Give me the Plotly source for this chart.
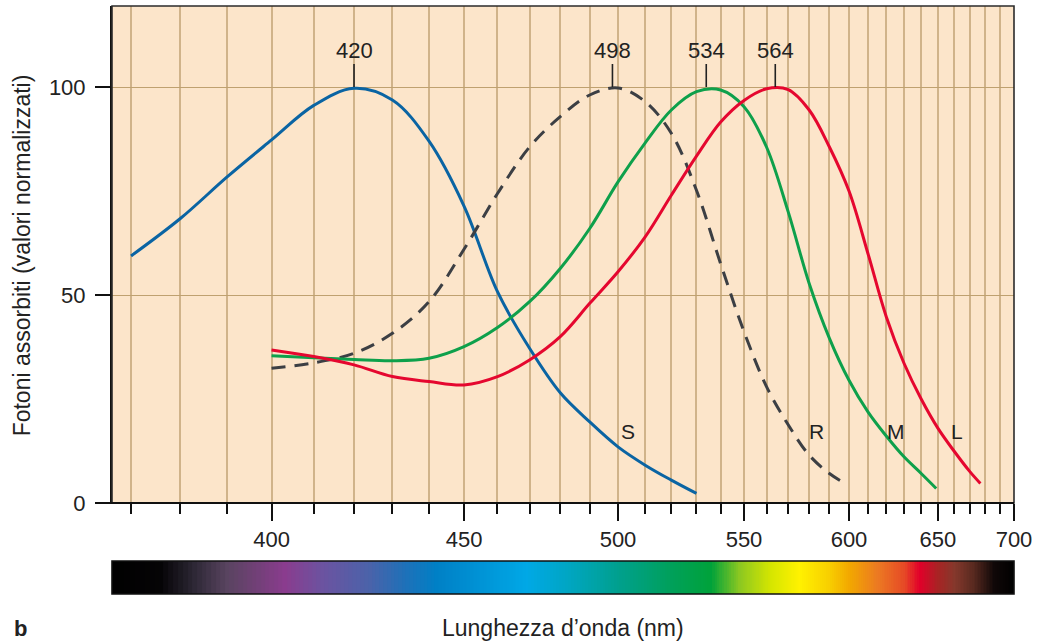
import plotly.graph_objects as go

# ---------------- data ----------------
wl_S = [370, 380, 390, 400, 410, 420, 430, 440, 450, 460, 470, 480, 490, 500, 510, 520, 530]
val_S = [59.4, 68.4, 78.4, 87.3, 95.6, 99.7, 96.9, 87.0, 71.4, 50.8, 37.2, 26.5, 19.5, 13.5, 9.1, 5.5, 2.3]

wl_R = [400, 410, 420, 430, 440, 450, 460, 470, 480, 490, 500, 510, 520, 530, 540, 550, 560, 570, 580, 590, 598]
val_R = [32.4, 33.7, 36.0, 40.8, 48.4, 61.0, 74.4, 85.6, 92.9, 98.1, 99.8, 96.5, 88.9, 75.2, 57.5, 41.2, 28.0, 18.8, 11.5, 7.1, 4.7]

wl_M = [400, 410, 420, 430, 440, 450, 460, 470, 480, 490, 500, 510, 520, 530, 540, 550, 560, 570, 580, 590, 600, 610, 620, 630, 640, 649]
val_M = [35.4, 34.9, 34.5, 34.2, 34.8, 37.6, 42.2, 48.4, 56.4, 66.0, 77.2, 86.6, 94.5, 98.9, 99.3, 95.3, 85.6, 70.0, 52.8, 39.6, 29.5, 21.9, 16.1, 11.1, 7.1, 3.5]

wl_L = [400, 410, 420, 430, 440, 450, 460, 470, 480, 490, 500, 510, 520, 530, 540, 550, 560, 570, 580, 590, 600, 610, 620, 630, 640, 650, 660, 670, 677]
val_L = [36.8, 35.2, 33.2, 30.4, 29.2, 28.4, 30.4, 34.4, 40.0, 48.0, 55.6, 64.0, 74.0, 83.4, 91.6, 96.8, 99.6, 99.4, 94.5, 85.6, 75.0, 60.0, 44.8, 33.6, 25.0, 18.0, 12.5, 7.6, 4.7]

peak_nm = [420, 498, 534, 564]

major_ticks_nm = [400, 450, 500, 550, 600, 650, 700]
minor_ticks_nm = list(range(370, 701, 10))
y_ticks = [0, 50, 100]

# spectrum colour stops (wavelength nm, colour)
spec_stop_nm = [366, 376, 383, 390, 403, 412, 424, 433, 442, 455, 469, 482, 500, 520, 536, 548, 562, 575, 590, 600, 615, 630, 639, 650, 660, 672, 686, 700]
spec_stop_col = ["#000000", "#050406", "#2e2836", "#594460", "#8a3c8e", "#6c53a0", "#4a63aa", "#2070b8", "#0080c6",
                 "#0094d6", "#00a8e6", "#00a6c4", "#00a08e", "#00a05a", "#00a23a", "#8cc821", "#d6e600", "#fff200",
                 "#f8cf00", "#f2a800", "#ec7a22", "#e64a26", "#e2002a", "#a82424", "#86382c", "#5a2a20", "#100808", "#000000"]

# ---------------- helpers ----------------
def k(nm):
    # axis is linear in wavenumber (1000/nm)
    return 1000.0 / nm

FONT = "Liberation Sans, Arial, Helvetica, sans-serif"
k_left = 2.7302
k_right = 1000.0 / 700

fig = go.Figure()

# spectrum bar
spec_nm = list(range(366, 701))
zmin, zmax = spec_stop_nm[0], spec_stop_nm[-1]
cscale = [[(s - zmin) / (zmax - zmin), c] for s, c in zip(spec_stop_nm, spec_stop_col)]
fig.add_trace(go.Heatmap(
    x=[k(v) for v in spec_nm], y=[0], z=[spec_nm],
    colorscale=cscale, zmin=zmin, zmax=zmax, showscale=False,
    hoverinfo="skip", xaxis="x2", yaxis="y2"))

curves = [
    (wl_S, val_S, "#0a64a3", "solid"),
    (wl_R, val_R, "#3c3f44", "14px,9px"),
    (wl_M, val_M, "#0ea04b", "solid"),
    (wl_L, val_L, "#e5072f", "solid"),
]
for wl, vals, col, dash in curves:
    fig.add_trace(go.Scatter(
        x=[k(v) for v in wl], y=vals, mode="lines",
        line=dict(color=col, width=3, dash=dash, shape="spline", smoothing=1.0),
        hoverinfo="skip", showlegend=False))

annotations = []
for p in peak_nm:
    annotations.append(dict(
        x=k(p), y=100, xref="x", yref="y", text=str(p),
        showarrow=True, arrowhead=0, arrowwidth=1.6, arrowcolor="#222222",
        ax=0, ay=-37, font=dict(family=FONT, size=22, color="#222222")))

for lab, lam, val in [("S", 503.8, 17.1), ("R", 583.4, 17.1), ("M", 625.4, 17.1), ("L", 661.6, 17.1)]:
    annotations.append(dict(x=k(lam), y=val, xref="x", yref="y", text=lab, showarrow=False,
                            font=dict(family=FONT, size=21, color="#222222")))

annotations += [
    dict(x=0.5, y=-0.058, xref="paper", yref="paper", text="Lunghezza d’onda (nm)", showarrow=False,
         xanchor="center", yanchor="middle", font=dict(family=FONT, size=23, color="#222222")),
    dict(x=-0.0994, y=0.5765, xref="paper", yref="paper", text="Fotoni assorbiti (valori normalizzati)",
         showarrow=False, textangle=-90, xanchor="center", yanchor="middle",
         font=dict(family=FONT, size=23, color="#222222")),
    dict(x=-0.111, y=-0.058, xref="paper", yref="paper", text="<b>b</b>", showarrow=False,
         xanchor="left", yanchor="middle", font=dict(family=FONT, size=22, color="#222222")),
]

shapes = [
    # frame of the plot area
    dict(type="rect", xref="x domain", yref="y domain", x0=0, x1=1, y0=0, y1=1,
         line=dict(color="#2b2b2b", width=1.6), fillcolor="rgba(0,0,0,0)", layer="above"),
    # bottom axis line extending left
    dict(type="line", xref="paper", yref="y domain", x0=-0.0166, x1=1, y0=0, y1=0,
         line=dict(color="#111111", width=1.8), layer="above"),
    # spectrum frame
    dict(type="rect", xref="x2 domain", yref="y2 domain", x0=0, x1=1, y0=0, y1=1,
         line=dict(color="#111111", width=1.6), fillcolor="rgba(0,0,0,0)", layer="above"),
]

fig.update_layout(
    width=1038, height=643,
    margin=dict(l=112, r=21, t=6, b=49),
    paper_bgcolor="white", plot_bgcolor="#fce5ca",
    showlegend=False,
    font=dict(family=FONT, size=21, color="#222222"),
    xaxis=dict(
        range=[k_left, k_right], anchor="y", domain=[0, 1],
        tickmode="array", tickvals=[k(v) for v in major_ticks_nm], ticktext=[str(v) for v in major_ticks_nm],
        ticks="outside", ticklen=17, tickwidth=1.6, tickcolor="#111111",
        ticklabelstandoff=0,
        showgrid=True, gridcolor="#d0b38a", gridwidth=1.5,
        showline=False, zeroline=False,
        tickfont=dict(family=FONT, size=22, color="#222222"),
        minor=dict(tickmode="array", tickvals=[k(v) for v in minor_ticks_nm if v not in major_ticks_nm],
                   ticks="outside", ticklen=10, tickwidth=1.6, tickcolor="#111111",
                   showgrid=True, gridcolor="#d0b38a", gridwidth=1.5),
    ),
    yaxis=dict(
        range=[0, 119.5], domain=[0.15476, 1], anchor="x",
        tickmode="array", tickvals=y_ticks,
        ticks="outside", ticklen=15, tickwidth=1.6, tickcolor="#111111",
        ticklabelstandoff=5,
        showgrid=True, gridcolor="#bfa170", gridwidth=1.3,
        showline=True, linecolor="#111111", linewidth=2,
        zeroline=False,
        tickfont=dict(family=FONT, size=22, color="#222222"),
    ),
    xaxis2=dict(range=[k_left, k_right], anchor="y2", domain=[0, 1], visible=False, showgrid=False),
    yaxis2=dict(range=[-0.5, 0.5], domain=[0, 0.0561], anchor="x2", visible=False, showgrid=False),
    annotations=annotations,
    shapes=shapes,
)

fig.write_html("out.html")
